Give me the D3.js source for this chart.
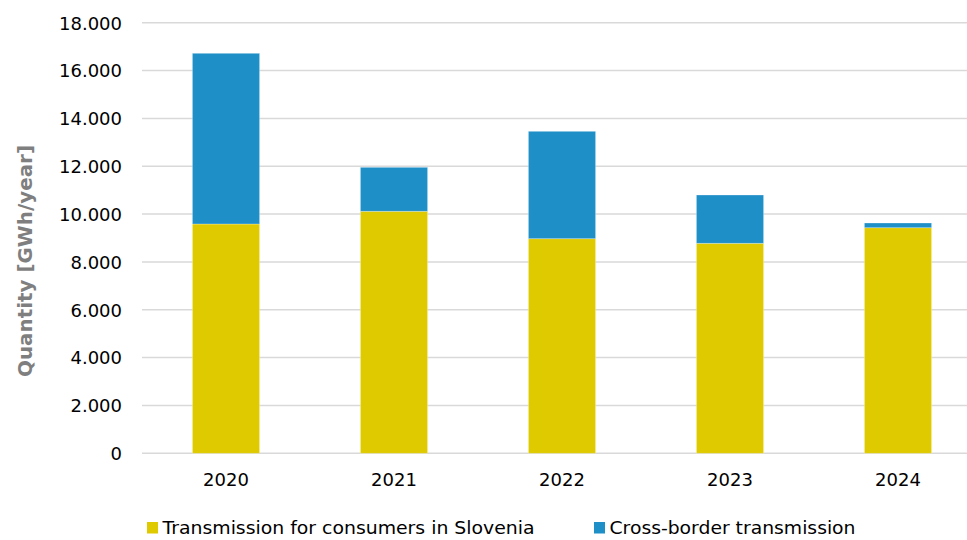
<!DOCTYPE html>
<html><head><meta charset="utf-8">
<script src="https://cdn.jsdelivr.net/npm/d3@7"></script>
<style>body{margin:0;background:#fff}svg{display:block}</style>
</head><body>
<script>
const years = ["2020","2021","2022","2023","2024"];
const domestic = [9585, 10116, 8971, 8778, 9430];
const crossBorder = [7136, 1839, 4489, 2019, 197];
const seriesNames = ["Transmission for consumers in Slovenia","Cross-border transmission"];
const seriesColors = ["#DFCA00","#1F8FC8"];
const yTicks = [0,2000,4000,6000,8000,10000,12000,14000,16000,18000];

const W=967,H=540;
const svg=d3.select("body").append("svg").attr("width",W).attr("height",H);
const font="DejaVu Sans";
const x=d3.scaleBand().domain(years).range([142,982]).paddingInner(0.6).paddingOuter(0.3);
const y=d3.scaleLinear().domain([0,18000]).range([453.3,22.7]);
const fmt=v=>d3.format(",")(v).replace(/,/g,".");

// gridlines
svg.append("g").selectAll("line").data(yTicks).join("line")
  .attr("x1",142).attr("x2",W).attr("y1",d=>y(d)).attr("y2",d=>y(d))
  .attr("stroke","#d9d9d9").attr("stroke-width",1.5);

// y axis labels
const yAxis=d3.axisLeft(y).tickValues(yTicks).tickFormat(fmt).tickSize(0).tickPadding(0);
const ya=svg.append("g").attr("transform","translate(122,0)").call(yAxis);
ya.select(".domain").remove();
ya.selectAll("text").attr("font-family",font).attr("font-size",18).attr("fill","#000").attr("dy","0.35em");

// stacked data
const data=years.map((yr,i)=>({year:yr,a:domestic[i],b:crossBorder[i]}));
const stack=d3.stack().keys(["a","b"])(data);
svg.append("g").selectAll("g").data(stack).join("g").attr("fill",(d,i)=>seriesColors[i])
  .selectAll("rect").data(d=>d).join("rect")
  .attr("x",d=>x(d.data.year)).attr("width",x.bandwidth())
  .attr("y",d=>y(d[1])).attr("height",d=>y(d[0])-y(d[1]))
  .attr("stroke","rgba(255,255,255,0.35)").attr("stroke-width",0.8);

// x axis
const xAxis=d3.axisBottom(x).tickSize(0).tickPadding(0);
const xa=svg.append("g").attr("transform","translate(0,453.3)").call(xAxis);
xa.select(".domain").remove();
xa.selectAll("text").attr("font-family",font).attr("font-size",18).attr("fill","#000").attr("y",20).attr("dy","0.71em");

// y title
svg.append("text").attr("transform","translate(31.5,261) rotate(-90)")
  .attr("text-anchor","middle").attr("font-family",font).attr("font-weight","bold")
  .attr("font-size",19.5).attr("fill","#7f7f7f")
  .attr("textLength",232).attr("lengthAdjust","spacingAndGlyphs")
  .text("Quantity [GWh/year]");

// legend
const legX=[147,594];
const legLen=[372,246];
const lg=svg.append("g").selectAll("g").data(seriesNames).join("g")
  .attr("transform",(d,i)=>`translate(${legX[i]},0)`);
lg.append("rect").attr("x",0).attr("y",522).attr("width",11).attr("height",11.5).attr("fill",(d,i)=>seriesColors[i]);
lg.append("text").attr("x",15.5).attr("y",533.5).attr("font-family",font)
  .attr("font-size",18.5).attr("fill","#000")
  .attr("textLength",(d,i)=>legLen[i]).attr("lengthAdjust","spacingAndGlyphs")
  .text(d=>d);
</script>
</body></html>
